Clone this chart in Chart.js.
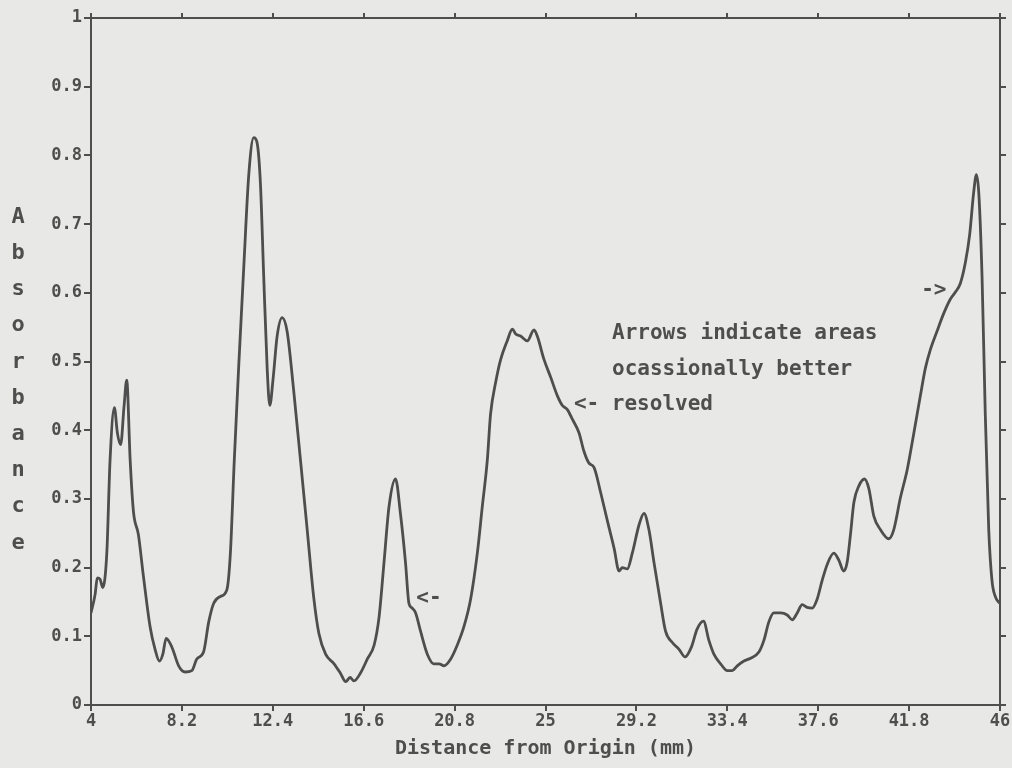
<!DOCTYPE html>
<html>
<head>
<meta charset="utf-8">
<title>Absorbance vs distance</title>
<script src="https://cdn.jsdelivr.net/npm/chart.js@4.4.1/dist/chart.umd.min.js"></script>
<style>
  html, body { margin: 0; padding: 0; background: #e8e8e6; }
  canvas { display: block; }
</style>
</head>
<body>
<canvas id="graphic" width="1012" height="768"></canvas>
<script>
// densitometer trace
const distMm = [
  4.0, 4.19, 4.29, 4.42, 4.54, 4.73, 4.88, 5.08, 5.22, 5.37, 5.53, 5.65, 5.81, 5.96, 6.19, 6.42, 6.73, 6.96, 7.16, 7.32,
  7.47, 7.74, 8.05, 8.35, 8.66, 8.89, 9.2, 9.44, 9.67, 9.98, 10.28, 10.44, 10.62, 10.82, 11.06, 11.29, 11.52, 11.67, 11.83, 11.98,
  12.14, 12.26, 12.42, 12.6, 12.83, 13.06, 13.37, 13.68, 13.99, 14.3, 14.53, 14.84, 15.23, 15.53, 15.77, 15.97, 16.15, 16.46, 16.77, 17.08,
  17.31, 17.54, 17.77, 18.07, 18.3, 18.53, 18.69, 18.84, 19.0, 19.23, 19.54, 19.84, 20.08, 20.31, 20.62, 20.92, 21.23, 21.54, 21.85, 22.08,
  22.31, 22.46, 22.7, 22.93, 23.23, 23.47, 23.62, 23.85, 24.16, 24.47, 24.62, 24.93, 25.24, 25.55, 25.78, 26.01, 26.24, 26.55, 26.78, 27.01,
  27.24, 27.55, 27.86, 28.17, 28.4, 28.55, 28.78, 29.01, 29.32, 29.55, 29.78, 30.01, 30.32, 30.55, 30.86, 31.17, 31.45, 31.75, 32.0, 32.3,
  32.55, 32.78, 33.09, 33.4, 33.63, 33.86, 34.17, 34.48, 34.86, 35.09, 35.32, 35.55, 35.86, 36.17, 36.4, 36.63, 36.86, 37.09, 37.32, 37.55,
  37.78, 38.02, 38.32, 38.55, 38.78, 38.94, 39.09, 39.25, 39.48, 39.74, 39.94, 40.17, 40.48, 40.86, 41.09, 41.4, 41.71, 42.02, 42.32, 42.55,
  42.78, 43.09, 43.4, 43.71, 43.94, 44.17, 44.4, 44.6, 44.78, 44.91, 45.02, 45.17, 45.32, 45.48, 45.63, 45.78, 45.98
]
const absorb = [
  0.134, 0.161, 0.185, 0.183, 0.171, 0.221, 0.356, 0.433, 0.396, 0.379, 0.436, 0.473, 0.356, 0.282, 0.248, 0.188, 0.114, 0.081, 0.064, 0.074,
  0.097, 0.084, 0.057, 0.048, 0.05, 0.067, 0.077, 0.121, 0.148, 0.158, 0.168, 0.221, 0.356, 0.49, 0.638, 0.772, 0.826, 0.819, 0.758, 0.624,
  0.49, 0.436, 0.477, 0.537, 0.564, 0.544, 0.456, 0.356, 0.255, 0.154, 0.104, 0.074, 0.06, 0.046, 0.034, 0.04, 0.035, 0.047, 0.067, 0.087,
  0.128, 0.208, 0.289, 0.329, 0.278, 0.208, 0.148, 0.141, 0.134, 0.107, 0.074, 0.06, 0.06, 0.057, 0.067, 0.087, 0.114, 0.154, 0.221, 0.289,
  0.356, 0.423, 0.47, 0.503, 0.53, 0.547, 0.54, 0.537, 0.53, 0.546, 0.537, 0.503, 0.477, 0.45, 0.436, 0.43, 0.416, 0.396, 0.369, 0.352,
  0.346, 0.309, 0.268, 0.228, 0.195, 0.2, 0.198, 0.221, 0.262, 0.279, 0.255, 0.208, 0.148, 0.107, 0.091, 0.081, 0.07, 0.085, 0.11, 0.122,
  0.094, 0.074, 0.06, 0.05, 0.05, 0.057, 0.064, 0.068, 0.077, 0.094, 0.121, 0.134, 0.134, 0.131, 0.124, 0.134, 0.146, 0.142, 0.141, 0.154,
  0.181, 0.205, 0.221, 0.211, 0.195, 0.208, 0.248, 0.295, 0.319, 0.329, 0.315, 0.275, 0.255, 0.242, 0.255, 0.302, 0.342, 0.396, 0.45, 0.49,
  0.517, 0.544, 0.57, 0.591, 0.601, 0.614, 0.644, 0.685, 0.745, 0.772, 0.745, 0.624, 0.423, 0.255, 0.181, 0.158, 0.148
]

const xTickVals = [4, 8.2, 12.4, 16.6, 20.8, 25, 29.2, 33.4, 37.6, 41.8, 46]
const xTickLabels = ['4', '8.2', '12.4', '16.6', '20.8', '25', '29.2', '33.4', '37.6', '41.8', '46']
const yTickVals = [0, 0.1, 0.2, 0.3, 0.4, 0.5, 0.6, 0.7, 0.8, 0.9, 1]
const yTickLabels = ['0', '0.1', '0.2', '0.3', '0.4', '0.5', '0.6', '0.7', '0.8', '0.9', '1']
const yTitle = 'Absorbance'
const xTitle = 'Distance from Origin (mm)'
const noteLines = ['Arrows indicate areas', 'ocassionally better', '<- resolved']

const ink = '#4e4e4e'
const mono = '"DejaVu Sans Mono", monospace'

const points = distMm.map((d, i) => ({ x: d, y: absorb[i] }))

const setTicks = (vals) => (scale) => { scale.ticks = vals.map(v => ({ value: v })) }

// stacked letters for y title, note text and arrows
const notes = {
  id: 'notes',
  beforeDraw(chart) {
    const ctx = chart.ctx
    ctx.save()
    ctx.fillStyle = '#e8e8e6'
    ctx.fillRect(0, 0, chart.width, chart.height)
    ctx.restore()
  },
  afterDraw(chart) {
    const ctx = chart.ctx
    const xs = chart.scales.x
    const ys = chart.scales.y
    ctx.save()
    ctx.fillStyle = ink
    ctx.textBaseline = 'middle'
    ctx.textAlign = 'center'
    ctx.font = 'bold 22px ' + mono
    yTitle.split('').forEach((ch, i) => {
      ctx.fillText(ch, 18, 217 + i * 36.2)
    })
    ctx.textAlign = 'left'
    ctx.font = 'bold 21px ' + mono
    noteLines.forEach((t, i) => {
      const off = i === 2 ? -3 * 12.7 : 0
      ctx.fillText(t, 612 + off, 334 + i * 35.5)
    })
    ctx.fillText('<-', xs.getPixelForValue(19.4) - 8, ys.getPixelForValue(0.155))
    ctx.fillText('->', xs.getPixelForValue(42.45) - 2, ys.getPixelForValue(0.604))
    ctx.restore()
  }
}

new Chart(document.getElementById('graphic'), {
  type: 'line',
  data: {
    datasets: [{
      data: points,
      borderColor: ink,
      borderWidth: 2.8,
      pointRadius: 0,
      tension: 0.4,
      cubicInterpolationMode: 'monotone',
      fill: false
    }]
  },
  options: {
    responsive: false,
    animation: false,
    layout: { padding: 0 },
    plugins: { legend: { display: false }, tooltip: { enabled: false } },
    scales: {
      x: {
        type: 'linear', position: 'bottom', min: 4, max: 46,
        afterBuildTicks: setTicks(xTickVals),
        afterFit: (s) => { s.height = 63 },
        border: { color: ink, width: 2 },
        grid: { drawOnChartArea: false, color: ink, lineWidth: 2, tickLength: 6 },
        ticks: {
          color: ink, padding: 0, maxRotation: 0, autoSkip: false,
          font: { family: mono, size: 17, weight: 'bold' },
          callback: (v, i) => xTickLabels[i]
        },
        title: {
          display: true, text: xTitle, color: ink, padding: { top: 0, bottom: 7 },
          font: { family: mono, size: 20, weight: 'bold' }
        }
      },
      xTop: {
        type: 'linear', position: 'top', min: 4, max: 46,
        afterBuildTicks: setTicks(xTickVals),
        afterFit: (s) => { s.height = 18 },
        border: { color: ink, width: 2 },
        grid: { drawOnChartArea: false, color: ink, lineWidth: 2, tickLength: 5 },
        ticks: { display: false }
      },
      y: {
        type: 'linear', position: 'left', min: 0, max: 1,
        afterBuildTicks: setTicks(yTickVals),
        afterFit: (s) => { s.width = 91 },
        border: { color: ink, width: 2 },
        grid: { drawOnChartArea: false, color: ink, lineWidth: 2, tickLength: 7 },
        ticks: {
          color: ink, padding: 2,
          font: { family: mono, size: 17, weight: 'bold' },
          callback: (v, i) => yTickLabels[i]
        }
      },
      yRight: {
        type: 'linear', position: 'right', min: 0, max: 1,
        afterBuildTicks: setTicks(yTickVals),
        afterFit: (s) => { s.width = 12 },
        border: { color: ink, width: 2 },
        grid: { drawOnChartArea: false, color: ink, lineWidth: 2, tickLength: 6 },
        ticks: { display: false }
      }
    }
  },
  plugins: [notes]
})
</script>
</body>
</html>
